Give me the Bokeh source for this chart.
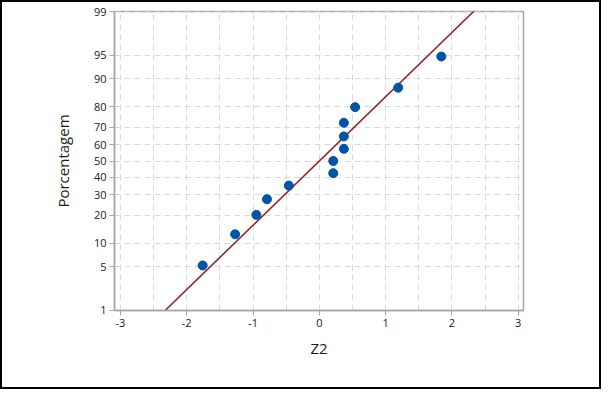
import math
from bokeh.plotting import figure
from bokeh.models import FixedTicker, Range1d
from bokeh.embed import file_html
from bokeh.resources import INLINE

# ---- data ----
z2_values = [-1.76, -1.27, -0.95, -0.79, -0.46, 0.21, 0.21, 0.37, 0.37, 0.37, 0.54, 1.19, 1.84]
percent_values = [5.2, 12.7, 20.1, 27.6, 35.1, 42.5, 50.0, 57.5, 64.9, 72.4, 79.9, 87.3, 94.8]
y_tick_labels = [1, 5, 10, 20, 30, 40, 50, 60, 70, 80, 90, 95, 99]
x_ticks = [-3, -2, -1, 0, 1, 2, 3]
x_grid = [-3, -2.5, -2, -1.5, -1, -0.5, 0, 0.5, 1, 1.5, 2, 2.5, 3]
fit_mean = 0.0
fit_std = 1.0


def norm_ppf(p):
    lo, hi = -10.0, 10.0
    for _ in range(200):
        mid = (lo + hi) / 2
        if 0.5 * (1 + math.erf(mid / math.sqrt(2))) < p:
            lo = mid
        else:
            hi = mid
    return round((lo + hi) / 2, 6)


y_pts = [norm_ppf(v / 100.0) for v in percent_values]
y_ticks = [norm_ppf(v / 100.0) for v in y_tick_labels]

p = figure(width=601, height=389, output_backend="svg", toolbar_location=None,
           x_range=Range1d(-3.09, 3.08), y_range=Range1d(y_ticks[0] - 0.0001, y_ticks[-1] + 0.0001),
           min_border_left=112, min_border_right=80, min_border_top=9, min_border_bottom=81)
p.styles = {"border": "2px solid black"}

# fitted line
lx = [fit_mean - 4 * fit_std, fit_mean + 4 * fit_std]
ly = [(v - fit_mean) / fit_std for v in lx]
p.line(lx, ly, line_color="#8E2B2B", line_width=1.6)

p.scatter(z2_values, y_pts, size=9, fill_color="#0054A6", line_color="#0054A6")

# axes
font = "Open Sans"
p.xaxis.ticker = FixedTicker(ticks=x_ticks)
p.yaxis.ticker = FixedTicker(ticks=y_ticks)
p.yaxis.major_label_overrides = {t: str(l) for t, l in zip(y_ticks, y_tick_labels)}
p.xaxis.major_label_overrides = {t: str(t) for t in x_ticks}
for ax in (p.xaxis, p.yaxis):
    ax.axis_line_color = "#a6a6a6"
    ax.axis_line_width = 1.5
    ax.major_tick_line_color = "#a6a6a6"
    ax.major_tick_out = 5
    ax.major_tick_in = 0
    ax.minor_tick_line_color = None
    ax.major_label_text_font = font
    ax.major_label_text_font_size = "11px"
    ax.major_label_text_color = "#1a1a1a"
    ax.axis_label_text_font = font
    ax.axis_label_text_font_size = "15px"
    ax.axis_label_text_font_style = "normal"
    ax.axis_label_text_color = "#1a1a1a"
p.xaxis.axis_label = "Z2"
p.yaxis.axis_label = "Porcentagem"
p.xaxis.axis_label_standoff = 8
p.yaxis.axis_label_standoff = 18
p.xaxis.major_label_standoff = 3
p.yaxis.major_label_standoff = 3

p.xgrid.ticker = FixedTicker(ticks=x_grid)
p.ygrid.ticker = FixedTicker(ticks=y_ticks)
for g in (p.xgrid, p.ygrid):
    g.grid_line_color = "#d9d9d9"
    g.grid_line_dash = "6 4"
    g.grid_line_width = 1

p.outline_line_color = "#a6a6a6"
p.outline_line_width = 1.5
p.background_fill_color = "white"
p.border_fill_color = "white"

open("out.html", "w").write(file_html(p, INLINE))
